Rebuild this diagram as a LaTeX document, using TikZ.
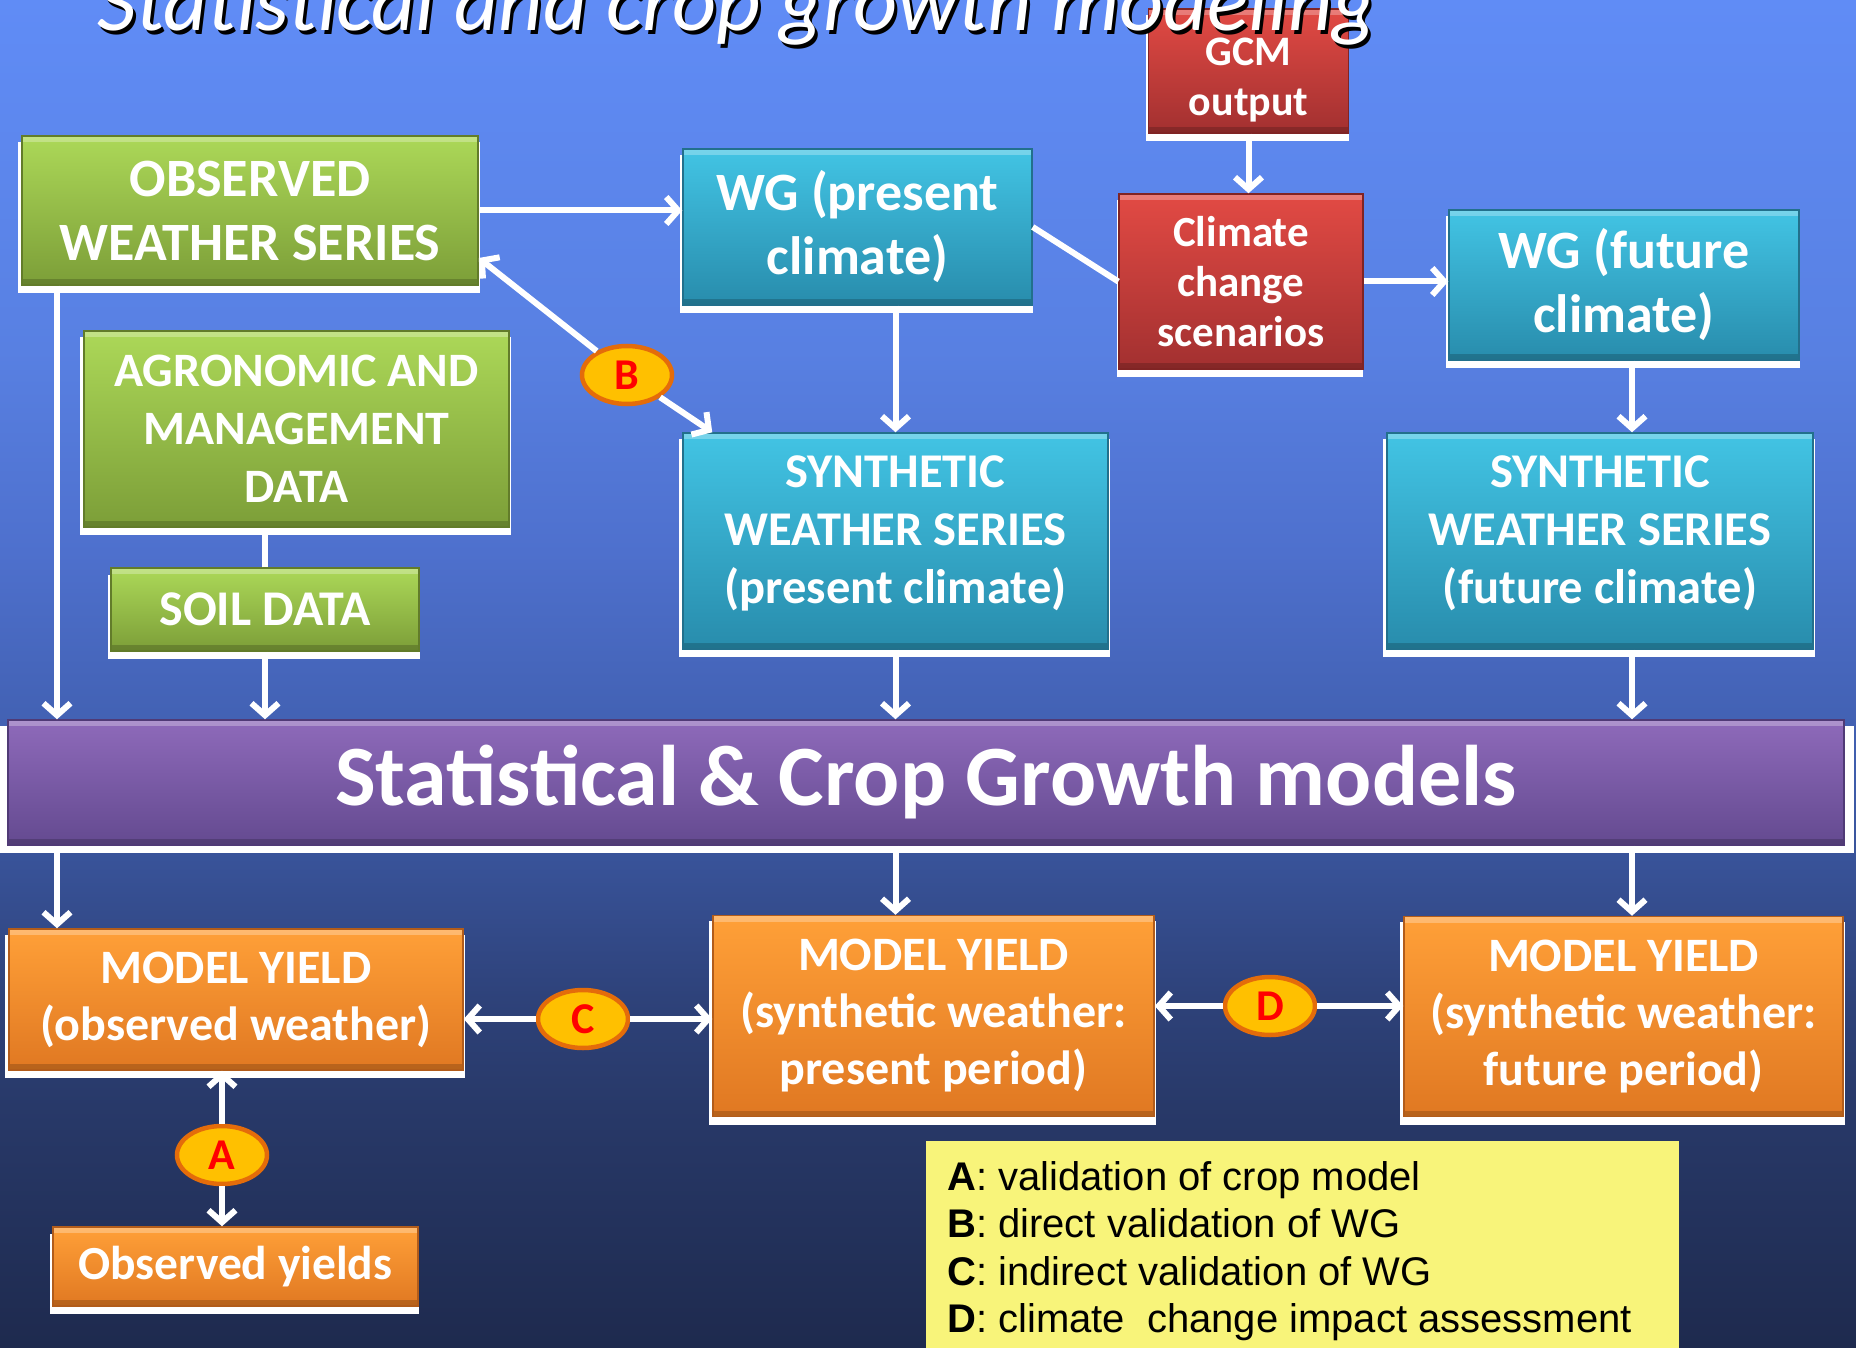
\documentclass[tikz,border=0pt]{standalone}
\usepackage{fontspec}
\setmainfont{Carlito}
\newfontfamily\legendfont{Liberation Sans}
\usetikzlibrary{arrows.meta,shapes.geometric,shadows}

% page background, light blue at the top to navy at the bottom
% (a named shading shows its 25bp--75bp band across the path)
\definecolor{bgA}{RGB}{96,140,246}
\definecolor{bgB}{RGB}{88,128,226}
\definecolor{bgC}{RGB}{78,112,205}
\definecolor{bgD}{RGB}{62,92,170}
\definecolor{bgE}{RGB}{46,66,122}
\definecolor{bgF}{RGB}{40,57,105}
\definecolor{bgG}{RGB}{30,42,78}
\pgfdeclareverticalshading{bgshade}{100bp}{color(0bp)=(bgG); color(25bp)=(bgG); color(34bp)=(bgF); color(38bp)=(bgE); color(46bp)=(bgD); color(54.5bp)=(bgC); color(62bp)=(bgB); color(75bp)=(bgA); color(100bp)=(bgA)}

% box colours
\definecolor{gTop}{RGB}{172,216,88}
\definecolor{gBot}{RGB}{124,158,56}
\definecolor{gEdge}{RGB}{98,124,42}
\definecolor{cTop}{RGB}{66,196,228}
\definecolor{cBot}{RGB}{40,140,172}
\definecolor{cEdge}{RGB}{34,112,140}
\definecolor{rTop}{RGB}{226,74,68}
\definecolor{rBot}{RGB}{162,48,48}
\definecolor{rEdge}{RGB}{128,36,36}
\definecolor{pTop}{RGB}{142,106,186}
\definecolor{pBot}{RGB}{100,74,144}
\definecolor{pEdge}{RGB}{80,58,118}
\definecolor{oTop}{RGB}{255,160,56}
\definecolor{oBot}{RGB}{224,120,34}
\definecolor{oEdge}{RGB}{178,92,26}
\definecolor{lFill}{RGB}{255,192,0}
\definecolor{lEdge}{RGB}{228,108,10}
\definecolor{legendbg}{RGB}{248,244,122}

\tikzset{
  box/.style={rectangle, inner sep=0pt, text=white, align=center,
    line width=1.5pt,
    drop shadow={fill=white, opacity=1, shadow xshift=-1pt, shadow yshift=-7pt, shadow scale=1.012},
    path picture={
      \fill[white,opacity=0.28] (path picture bounding box.north west) rectangle ([yshift=-6pt]path picture bounding box.north east);
      \fill[black,opacity=0.18] (path picture bounding box.south west) rectangle ([yshift=6pt]path picture bounding box.south east);
    }},
  greenbox/.style={box, top color=gTop, bottom color=gBot, draw=gEdge},
  cyanbox/.style={box, top color=cTop, bottom color=cBot, draw=cEdge},
  redbox/.style={box, top color=rTop, bottom color=rBot, draw=rEdge},
  purplebox/.style={box, top color=pTop, bottom color=pBot, draw=pEdge},
  orangebox/.style={box, top color=oTop, bottom color=oBot, draw=oEdge},
  tag/.style={ellipse, fill=lFill, draw=lEdge, line width=4.5pt,
    minimum width=90pt, minimum height=58pt, inner sep=0pt,
    text=red, font=\bfseries\fontsize{44}{44}\selectfont},
  flow/.style={draw=white, line width=6pt},
  >={Straight Barb[length=12pt,width=27pt]},
  legendline/.style={anchor=base west, inner sep=0pt, text=black,
    font=\legendfont\fontsize{40}{47}\selectfont}
}

\begin{document}
\begin{tikzpicture}[x=1pt,y=-1pt]
\useasboundingbox (0,0) rectangle (1856,1348);
\shade[shading=bgshade] (0,0) rectangle (1856,1348);

% ---- boxes ----
\node[redbox, minimum width=200, minimum height=124, font=\bfseries\fontsize{42}{50}\selectfont] (gcm) at (1248.5,71) {\rule{0pt}{46pt}GCM\\output};

% title with its shadow
\node[anchor=base west, inner sep=0pt, text=black, font=\itshape\fontsize{86}{86}\selectfont] (titleshadow) at (100,35) {Statistical and crop growth modeling};
\node[anchor=base west, inner sep=0pt, text=white, font=\itshape\fontsize{86}{86}\selectfont] (title) at (97,31) {Statistical and crop growth modeling};

\node[greenbox, minimum width=456, minimum height=149, font=\bfseries\fontsize{54}{64}\selectfont] (obs) at (250,210.5) {OBSERVED\\WEATHER SERIES};
\node[cyanbox, minimum width=349, minimum height=156, font=\bfseries\fontsize{54}{64}\selectfont] (wgp) at (857.5,227) {WG (present\\climate)};
\node[redbox, minimum width=244, minimum height=175, font=\bfseries\fontsize{43}{50}\selectfont] (ccs) at (1241,281.5) {Climate\\change\\scenarios};
\node[cyanbox, minimum width=350, minimum height=150, font=\bfseries\fontsize{54}{64}\selectfont] (wgf) at (1624,285) {WG (future\\climate)};
\node[greenbox, minimum width=425, minimum height=196, font=\bfseries\fontsize{48}{58}\selectfont] (agro) at (296.5,429) {AGRONOMIC AND\\MANAGEMENT\\DATA};
\node[greenbox, minimum width=308, minimum height=83, font=\bfseries\fontsize{50}{58}\selectfont] (soil) at (265,609.5) {SOIL DATA};
\node[cyanbox, minimum width=425, minimum height=216, font=\bfseries\fontsize{48.5}{58}\selectfont] (synp) at (895.5,541) {SYNTHETIC\\WEATHER SERIES\\(present climate)\rule[-22pt]{0pt}{1pt}};
\node[cyanbox, minimum width=426, minimum height=216, font=\bfseries\fontsize{48.5}{58}\selectfont] (synf) at (1600,541) {SYNTHETIC\\WEATHER SERIES\\(future climate)\rule[-22pt]{0pt}{1pt}};
\node[purplebox, minimum width=1836, minimum height=125, font=\bfseries\fontsize{86}{86}\selectfont] (model) at (926,782.5) {Statistical \& Crop Growth models};
\node[orangebox, minimum width=454, minimum height=141, font=\bfseries\fontsize{48}{57}\selectfont] (myo) at (236,999.5) {MODEL YIELD\\(observed weather)};
\node[orangebox, minimum width=365, minimum height=79, font=\bfseries\fontsize{47.5}{57}\selectfont] (oy) at (235.5,1266.5) {Observed yields};
\node[orangebox, minimum width=441, minimum height=201, font=\bfseries\fontsize{48}{57}\selectfont] (myp) at (933.5,1016) {MODEL YIELD\\(synthetic weather:\\present period)};
\node[orangebox, minimum width=439, minimum height=200, font=\bfseries\fontsize{48}{57}\selectfont] (myf) at (1623.5,1016.5) {MODEL YIELD\\(synthetic weather:\\future period)};

% ---- validation tags ----
\node[tag] (B) at (627,375) {B};
\node[tag] (C) at (583,1019) {C};
\node[tag] (D) at (1270,1006) {D};
\node[tag] (A) at (222,1155) {A};

% ---- connectors ----
\coordinate (lx) at (57,0);
\coordinate (rx) at (1632,0);
\draw[flow,->] (obs.east) -- (obs.east -| wgp.west);
\draw[flow] (wgp.east) -- (ccs.west);
\draw[flow,->] (gcm.south) -- (gcm.south |- ccs.north);
\draw[flow,->] (ccs.east) -- (ccs.east -| wgf.west);
\draw[flow,->] (synp.north |- wgp.south) -- (synp.north);
\draw[flow,->] (rx |- wgf.south) -- (rx |- synf.north);
\draw[flow,->] (B) -- ([yshift=-47.5pt]obs.east);
\draw[flow,->] (B) -- ([xshift=30pt]synp.north west);
\draw[flow,->] (lx |- obs.south) -- (lx |- model.north);
\draw[flow] (soil.north) -- (soil.north |- agro.south);
\draw[flow,->] (soil.south) -- (soil.south |- model.north);
\draw[flow,->] (synp.south) -- (synp.south |- model.north);
\draw[flow,->] (rx |- synf.south) -- (rx |- model.north);
\draw[flow,->] (lx |- model.south) -- (lx |- myo.north);
\draw[flow,->] (synp.south |- model.south) -- (synp.south |- myp.north);
\draw[flow,->] (rx |- model.south) -- (rx |- myf.north);
\draw[flow,->] (C) -- (C -| myo.east);
\draw[flow,->] (C) -- (C -| myp.west);
\draw[flow,->] (D) -- (D -| myp.east);
\draw[flow,->] (D) -- (D -| myf.west);
\draw[flow,->] (A) -- (A |- myo.south);
\draw[flow,->] (A) -- (A |- oy.north);

% ---- legend ----
\node[rectangle, fill=legendbg, minimum width=753, minimum height=230, inner sep=0pt] (legend) at (1302.5,1256) {};
\node[legendline] (la) at (947,1190) {\textbf{A}: validation of crop model};
\node[legendline] (lb) at (947,1237) {\textbf{B}: direct validation of WG};
\node[legendline] (lc) at (947,1285) {\textbf{C}: indirect validation of WG};
\node[legendline] (ld) at (947,1332) {\textbf{D}: climate\ \ change impact assessment};
\end{tikzpicture}
\end{document}
